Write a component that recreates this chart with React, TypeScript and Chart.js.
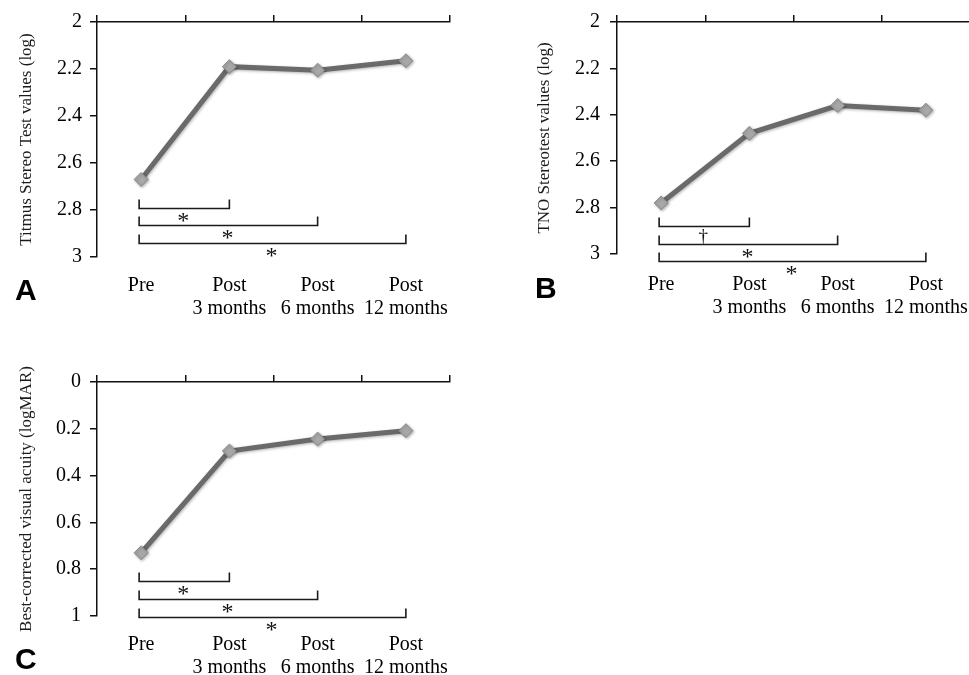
import React, { useEffect, useRef } from 'react';
import Chart from 'chart.js/auto';

// ---- data ----
const categories: string[][] = [['Pre'], ['Post', '3 months'], ['Post', '6 months'], ['Post', '12 months']];

const titmusValues = [2.67, 2.19, 2.205, 2.165];
const tnoValues = [2.78, 2.48, 2.36, 2.38];
const bcvaValues = [0.73, 0.295, 0.244, 0.208];

const stereoTickLabels = ['2', '2.2', '2.4', '2.6', '2.8', '3'];
const bcvaTickLabels = ['0', '0.2', '0.4', '0.6', '0.8', '1'];

const titmusBrackets = [
  { from: 0, to: 1, mark: '*' },
  { from: 0, to: 2, mark: '*' },
  { from: 0, to: 3, mark: '*' },
];
const tnoBrackets = [
  { from: 0, to: 1, mark: '†' },
  { from: 0, to: 2, mark: '*' },
  { from: 0, to: 3, mark: '*' },
];
const bcvaBrackets = [
  { from: 0, to: 1, mark: '*' },
  { from: 0, to: 2, mark: '*' },
  { from: 0, to: 3, mark: '*' },
];

const SERIF = '"Liberation Serif", "Times New Roman", serif';
const SANS = '"Liberation Sans", Arial, sans-serif';

const annotPlugin = {
  id: 'annot',
  beforeDatasetsDraw(chart: any) {
    const ctx = chart.ctx;
    ctx.save();
    ctx.shadowColor = 'rgba(0,0,0,0.3)';
    ctx.shadowBlur = 3;
    ctx.shadowOffsetX = 1;
    ctx.shadowOffsetY = 1;
  },
  afterDatasetsDraw(chart: any) {
    chart.ctx.restore();
  },
  afterDraw(chart: any, _args: any, opts: any) {
    const { ctx } = chart;
    const xs = chart.scales.x;
    const ys = chart.scales.y;
    ctx.save();
    ctx.strokeStyle = '#1a1a1a';
    ctx.lineWidth = 1.6;
    ctx.fillStyle = '#111';
    ctx.textAlign = 'center';
    ctx.textBaseline = 'alphabetic';
    (opts.brackets || []).forEach((b: any, i: number) => {
      const yy = Math.round(ys.getPixelForValue(opts.bracketStart) + i * opts.bracketStep) + 0.5;
      const x1 = xs.getPixelForValue(b.from) - 2;
      const x2 = xs.getPixelForValue(b.to);
      ctx.beginPath();
      ctx.moveTo(x1, yy - 9);
      ctx.lineTo(x1, yy);
      ctx.lineTo(x2, yy);
      ctx.lineTo(x2, yy - 9);
      ctx.stroke();
      const isStar = b.mark === '*';
      ctx.font = `${isStar ? 24 : 19}px ${SERIF}`;
      ctx.fillText(b.mark, (x1 + x2) / 2 - 1, yy + (isStar ? 19 : 15));
    });
    ctx.font = `bold 30px ${SANS}`;
    ctx.textAlign = 'left';
    ctx.fillStyle = '#000';
    ctx.fillText(opts.letter, opts.letterX, opts.letterY);
    ctx.restore();
  },
};

type PanelProps = {
  left: number;
  top: number;
  width: number;
  height: number;
  values: number[];
  min: number;
  max: number;
  tickLabels: string[];
  yTitle: string;
  yWidth: number;
  titlePad: number;
  tickPad: number;
  topH: number;
  bottomH: number;
  labelPad: number;
  padRight: number;
  brackets: { from: number; to: number; mark: string }[];
  bracketStart: number;
  bracketStep: number;
  letter: string;
  letterX: number;
  letterY: number;
};

function Panel(p: PanelProps) {
  const ref = useRef<HTMLCanvasElement | null>(null);
  useEffect(() => {
    if (!ref.current) return;
    const chart = new Chart(ref.current, {
      type: 'line',
      data: {
        labels: categories as any,
        datasets: [
          {
            data: p.values,
            xAxisID: 'x',
            yAxisID: 'y',
            borderColor: '#6a6a6a',
            borderWidth: 5,
            pointStyle: 'rectRot',
            pointRadius: 7,
            pointBackgroundColor: '#a8a8a8',
            pointBorderColor: '#8c8c8c',
            pointBorderWidth: 1,
            tension: 0,
          },
        ],
      },
      options: {
        responsive: false,
        animation: false,
        layout: { padding: { left: 0, top: 0, right: p.padRight, bottom: 0 } },
        plugins: {
          legend: { display: false },
          tooltip: { enabled: false },
          annot: {
            brackets: p.brackets,
            bracketStart: p.bracketStart,
            bracketStep: p.bracketStep,
            letter: p.letter,
            letterX: p.letterX,
            letterY: p.letterY,
          },
        } as any,
        scales: {
          x: {
            type: 'category',
            position: 'bottom',
            offset: true,
            grid: { display: false, drawTicks: true, tickLength: p.labelPad },
            border: { display: false },
            ticks: {
              autoSkip: false,
              maxRotation: 0,
              padding: 0,
              color: '#000',
              font: { family: SERIF, size: 20, lineHeight: 1.15 },
            },
            afterFit: (s: any) => {
              s.height = p.bottomH;
            },
          },
          xTop: {
            type: 'category',
            position: 'top',
            offset: true,
            grid: { offset: true, drawOnChartArea: false, drawTicks: true, tickLength: 7, color: '#111', lineWidth: 1.5 },
            border: { display: true, color: '#111', width: 1.5 },
            ticks: { display: false },
            afterFit: (s: any) => {
              s.height = p.topH;
            },
          },
          y: {
            type: 'linear',
            position: 'left',
            reverse: true,
            min: p.min,
            max: p.max,
            grid: { drawOnChartArea: false, drawTicks: true, tickLength: 7, color: '#111', lineWidth: 1.5 },
            border: { display: true, color: '#111', width: 1.5 },
            ticks: {
              stepSize: 0.2,
              padding: p.tickPad,
              color: '#000',
              font: { family: SERIF, size: 20 },
              callback: (v: any) => p.tickLabels.find((l) => Math.abs(Number(l) - Number(v)) < 1e-6) ?? '',
            },
            title: {
              display: true,
              text: p.yTitle,
              color: '#1a1a1a',
              font: { family: SERIF, size: 17 },
              padding: { top: p.titlePad, bottom: 0 },
            },
            afterFit: (s: any) => {
              s.width = p.yWidth;
            },
          },
        },
      } as any,
      plugins: [annotPlugin as any],
    });
    return () => chart.destroy();
  }, []);
  return (
    <canvas
      ref={ref}
      width={p.width}
      height={p.height}
      style={{ position: 'absolute', left: p.left, top: p.top, width: p.width, height: p.height }}
    />
  );
}

export default function App() {
  return (
    <div style={{ position: 'absolute', left: 0, top: 0, width: 969, height: 675, background: '#fff', overflow: 'hidden' }}>
      <Panel
        left={0}
        top={0}
        width={480}
        height={330}
        values={titmusValues}
        min={2}
        max={3}
        tickLabels={stereoTickLabels}
        yTitle="Titmus Stereo Test values (log)"
        yWidth={97}
        titlePad={16.8}
        tickPad={8}
        topH={22}
        bottomH={73}
        labelPad={17.5}
        padRight={30}
        brackets={titmusBrackets}
        bracketStart={2.79}
        bracketStep={17.6}
        letter="A"
        letterX={15}
        letterY={300}
      />
      <Panel
        left={490}
        top={0}
        width={505}
        height={330}
        values={tnoValues}
        min={2}
        max={3}
        tickLabels={stereoTickLabels}
        yTitle="TNO Stereotest values (log)"
        yWidth={127}
        titlePad={44.8}
        tickPad={10}
        topH={21}
        bottomH={76}
        labelPad={19}
        padRight={25}
        brackets={tnoBrackets}
        bracketStart={2.88}
        bracketStep={17.5}
        letter="B"
        letterX={45}
        letterY={298}
      />
      <Panel
        left={0}
        top={335}
        width={480}
        height={340}
        values={bcvaValues}
        min={0}
        max={1}
        tickLabels={bcvaTickLabels}
        yTitle="Best-corrected visual acuity (logMAR)"
        yWidth={97}
        titlePad={16.8}
        tickPad={9}
        topH={47}
        bottomH={59}
        labelPad={17.5}
        padRight={30}
        brackets={bcvaBrackets}
        bracketStart={0.849}
        bracketStep={18}
        letter="C"
        letterX={15}
        letterY={334}
      />
    </div>
  );
}
